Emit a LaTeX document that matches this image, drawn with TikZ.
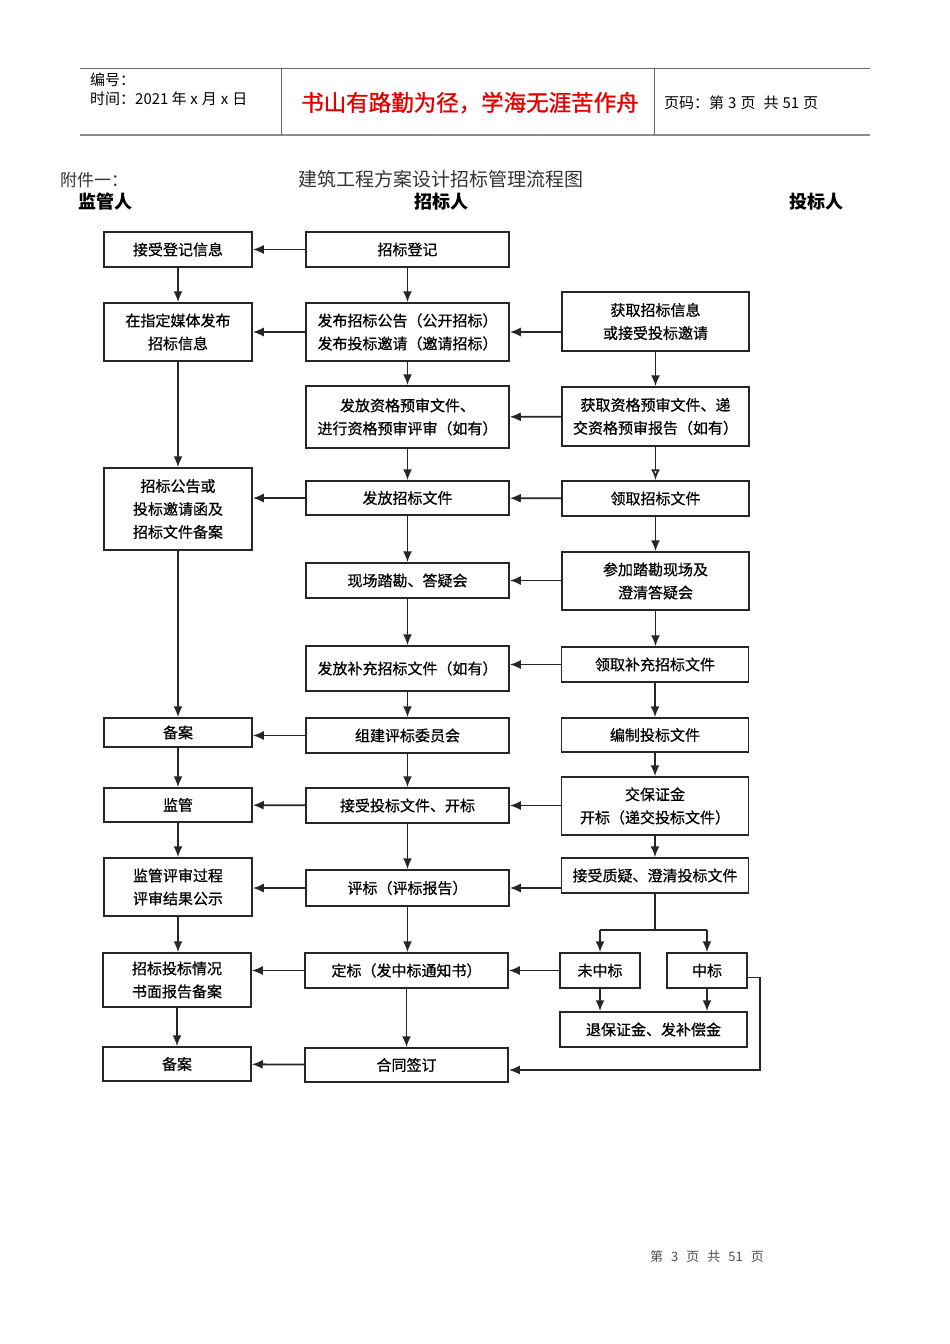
\documentclass[tikz,border=0pt]{standalone}
\usepackage{fontspec}
\setmainfont{Noto Sans CJK SC}
\newfontfamily\boxfont[FakeBold=0.7]{Noto Sans CJK SC}
\newfontfamily\redfont[FakeBold=1.2]{Noto Sans CJK SC}
\usetikzlibrary{arrows.meta}
\tikzset{
  box/.style={draw=black!85, line width=1.5pt, align=center, inner sep=2pt,
    font=\boxfont\fontsize{15}{23}\selectfont, fill=white},
  lw/.style={minimum width=148, text width=140},
  mw/.style={minimum width=203, text width=195},
  rw/.style={minimum width=187, text width=180},
  arr/.style={line width=1.8pt, draw=black!85, -{Latex[length=11pt,width=9pt]}},
  oarr/.style={line width=1.8pt, draw=black!85, -{Latex[open,length=11pt,width=9pt]}},
  ln/.style={line width=1.8pt, draw=black!85},
  hdr/.style={anchor=base west, inner sep=0pt, font=\fontsize{15}{17}\selectfont},
}
\begin{document}
\begin{tikzpicture}[x=1pt,y=-1pt]
\useasboundingbox (0,0) rectangle (950,1344);
% header
\draw[black!60, line width=1pt] (80,68) -- (870,68);
\draw[black!45, line width=2pt] (80,135) -- (870,135);
\draw[black!60, line width=0.8pt] (281,68) -- (281,135);
\draw[black!60, line width=0.8pt] (654,68) -- (654,135);
\node[hdr] (h1) at (90,85) {编号：};
\node[hdr] (h2) at (90,104) {时间：2021\hspace{3pt}年\hspace{4pt}x\hspace{4pt}月\hspace{4pt}x\hspace{4pt}日};
\node[hdr, font=\redfont\fontsize{22.5}{24}\selectfont, text=red!90!black] (h3) at (301,111) {书山有路勤为径，学海无涯苦作舟};
\node[hdr] (h4) at (664,108) {页码：第\hspace{4pt}3\hspace{4pt}页\hspace{8pt}共\hspace{4pt}51\hspace{4pt}页};
% titles
\node[hdr, font=\fontsize{17}{20}\selectfont, text=black!80] (t1) at (60,186) {附件一：};
\node[hdr, font=\fontsize{19}{20}\selectfont, text=black!80] (t2) at (298,186) {建筑工程方案设计招标管理流程图};
\node[hdr, font=\bfseries\fontsize{18}{20}\selectfont] (c1) at (78,208) {监管人};
\node[hdr, font=\bfseries\fontsize{18}{20}\selectfont] (c2) at (414,208) {招标人};
\node[hdr, font=\bfseries\fontsize{18}{20}\selectfont] (c3) at (789,208) {投标人};
% footer
\node[hdr, font=\fontsize{13}{15}\selectfont, text=black!70] (f1) at (650,1261) {第\hspace{8pt}3\hspace{8pt}页\hspace{8pt}共\hspace{8pt}51\hspace{8pt}页};

% left column
\node[box,lw,minimum height=35] (L1) at (178,249.5) {接受登记信息};
\node[box,lw,minimum height=58] (L2) at (178,332) {在指定媒体发布\\招标信息};
\node[box,lw,minimum height=82] (L3) at (178,509) {招标公告或\\投标邀请函及\\招标文件备案};
\node[box,lw,minimum height=29] (L4) at (178,732.5) {备案};
\node[box,lw,minimum height=34] (L5) at (178,805) {监管};
\node[box,lw,minimum height=58] (L6) at (178,887) {监管评审过程\\评审结果公示};
\node[box,lw,minimum height=54] (L7) at (177,980) {招标投标情况\\书面报告备案};
\node[box,lw,minimum height=34] (L8) at (177,1064) {备案};
% middle column
\node[box,mw,minimum height=35] (M1) at (407.5,249.5) {招标登记};
\node[box,mw,minimum height=58] (M2) at (407.5,332) {发布招标公告（公开招标）\\发布投标邀请（邀请招标）};
\node[box,mw,minimum height=62] (M3) at (407.5,417) {发放资格预审文件、\\进行资格预审评审（如有）};
\node[box,mw,minimum height=34] (M4) at (407.5,498) {发放招标文件};
\node[box,mw,minimum height=35] (M5) at (407.5,580.5) {现场踏勘、答疑会};
\node[box,mw,minimum height=45] (M6) at (407.5,668.5) {发放补充招标文件（如有）};
\node[box,mw,minimum height=35] (M7) at (407.5,735.5) {组建评标委员会};
\node[box,mw,minimum height=35] (M8) at (407.5,805.5) {接受投标文件、开标};
\node[box,mw,minimum height=36] (M9) at (407.5,888) {评标（评标报告）};
\node[box,mw,minimum height=35] (M10) at (406.5,970.5) {定标（发中标通知书）};
\node[box,mw,minimum height=34] (M11) at (406.5,1065) {合同签订};
% right column
\node[box,rw,minimum height=59] (R1) at (655.5,321.5) {获取招标信息\\或接受投标邀请};
\node[box,rw,minimum height=59] (R2) at (655.5,416.5) {获取资格预审文件、递\\交资格预审报告（如有）};
\node[box,rw,minimum height=35] (R3) at (655.5,498.5) {领取招标文件};
\node[box,rw,minimum height=58] (R4) at (655.5,581) {参加踏勘现场及\\澄清答疑会};
\node[box,rw,minimum height=35] (R5) at (655,664.5) {领取补充招标文件};
\node[box,rw,minimum height=34] (R6) at (655,735) {编制投标文件};
\node[box,rw,minimum height=58] (R7) at (655,806) {交保证金\\开标（递交投标文件）};
\node[box,rw,minimum height=35] (R8) at (655,875.5) {接受质疑、澄清投标文件};
\node[box,minimum width=80,minimum height=35] (R9) at (600,970.5) {未中标};
\node[box,minimum width=80,minimum height=35] (R10) at (707,970.5) {中标};
\node[box,rw,minimum height=35] (R11) at (653.5,1029.5) {退保证金、发补偿金};

% vertical arrows
\foreach \a/\b in {L1/L2,L2/L3,L3/L4,L4/L5,L5/L6,L6/L7,L7/L8,
  M1/M2,M2/M3,M3/M4,M4/M5,M5/M6,M6/M7,M7/M8,M8/M9,M9/M10,M10/M11,
  R1/R2,R3/R4,R4/R5,R5/R6,R6/R7,R7/R8,R9/R11,R10/R11}
  \draw[arr] (\a.south) -- (\a.south |- \b.north);
\draw[oarr] (R2.south) -- (R2.south |- R3.north);
% split
\coordinate (sp) at (655,930);
\draw[ln] (R8.south) -- (sp);
\draw[ln] (R9.north |- sp) -- (R10.north |- sp);
\draw[arr] (R9.north |- sp) -- (R9.north);
\draw[arr] (R10.north |- sp) -- (R10.north);
% horizontal arrows
\draw[arr] (M1) -- (L1);
\draw[arr] (M2) -- (L2);
\draw[arr] (R1.west |- M2) -- (M2.east);
\draw[arr] (R2) -- (M3);
\draw[arr] (M4.west) -- (M4.west -| L3.east);
\draw[arr] (R3) -- (M4);
\draw[arr] (R4.west |- M5) -- (M5.east);
\draw[arr] (R5) -- (M6.east |- R5);
\draw[arr] (M7.west) -- (M7.west -| L4.east);
\draw[arr] (R7.west |- M8) -- (M8.east);
\draw[arr] (M8) -- (L5);
\draw[arr] (R8.west |- M9) -- (M9.east);
\draw[arr] (M9.west) -- (M9.west -| L6.east);
\draw[arr] (R9) -- (M10);
\draw[arr] (M10.west) -- (M10.west -| L7.east);
\draw[arr] (M11) -- (L8);
\coordinate (rc) at (760,1070);
\draw[arr] ([yshift=-7pt]R10.east) -| (rc) -- (rc -| M11.east);
\end{tikzpicture}
\end{document}
